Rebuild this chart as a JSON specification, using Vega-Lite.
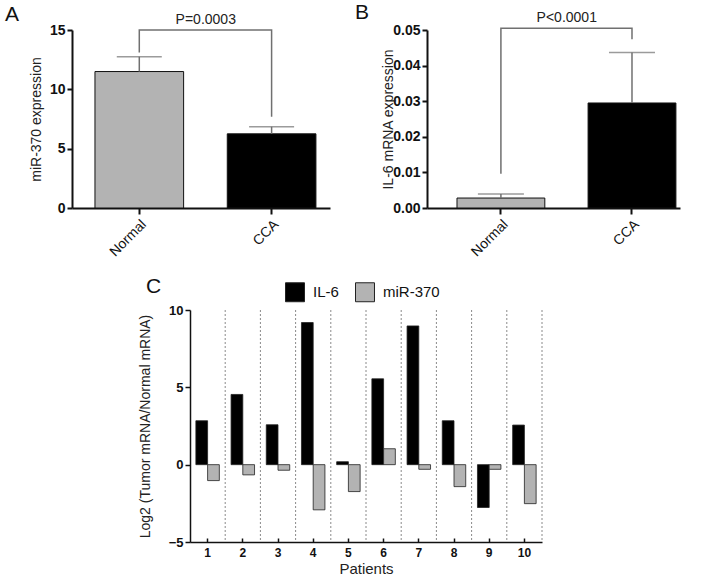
{
  "$schema": "https://vega.github.io/schema/vega-lite/v6.json",
  "background": "white",
  "padding": {"left": 5, "top": 2, "right": 5, "bottom": 0},
  "config": {
    "font": "Liberation Sans",
    "view": {"stroke": null},
    "axis": {"labelColor": "#111", "titleColor": "#222", "domainColor": "#111", "tickColor": "#111", "grid": false},
    "title": {"fontWeight": "normal", "fontSize": 21, "color": "#111"}
  },
  "spacing": 17,
  "resolve": {"scale": {"color": "independent", "x": "independent", "y": "independent"}, "legend": {"color": "independent"}},
  "vconcat": [
    {
      "spacing": 97,
      "bounds": "flush",
      "resolve": {"scale": {"color": "independent", "x": "independent", "y": "independent"}},
      "hconcat": [
        {
          "width": 258,
          "height": 178,
          "title": {"text": "A", "anchor": "start", "frame": "group", "dx": -67, "offset": -12},
          "data": {"values": [
            {"group": "Normal", "mean": 11.5, "upper": 12.75},
            {"group": "CCA", "mean": 6.25, "upper": 6.85}
          ]},
          "layer": [
            {
              "mark": {"type": "bar", "stroke": "#111", "strokeWidth": 1},
              "encoding": {
                "x": {"field": "group", "type": "nominal", "scale": {"domain": ["Normal", "CCA"], "paddingInner": 0.33, "paddingOuter": 0.14, "align": 0.62},
                  "axis": {"title": null, "labelAngle": -45, "labelFontSize": 14, "labelFontWeight": "normal", "domainWidth": 2, "tickWidth": 2, "tickSize": 6, "labelPadding": 3}},
                "y": {"field": "mean", "type": "quantitative", "scale": {"domain": [0, 15], "nice": false},
                  "axis": {"values": [0, 5, 10, 15], "title": "miR-370 expression", "titleFontSize": 14, "titleFontWeight": "normal", "labelFontSize": 14, "labelFontWeight": "bold", "domainWidth": 2, "tickWidth": 2, "tickSize": 5, "labelPadding": 2, "titlePadding": 6}},
                "color": {"field": "group", "type": "nominal", "scale": {"domain": ["Normal", "CCA"], "range": ["#b3b3b3", "#000000"]}, "legend": null}
              }
            },
            {
              "mark": {"type": "rule", "color": "#707070", "strokeWidth": 1.5},
              "encoding": {
                "x": {"field": "group", "type": "nominal"},
                "y": {"field": "mean", "type": "quantitative"},
                "y2": {"field": "upper"}
              }
            },
            {
              "mark": {"type": "tick", "color": "#707070", "thickness": 1.5, "size": 45},
              "encoding": {
                "x": {"field": "group", "type": "nominal"},
                "y": {"field": "upper", "type": "quantitative"}
              }
            },
            {
              "data": {"values": [
                {"group": "Normal", "y": 13.1, "o": 1},
                {"group": "Normal", "y": 15, "o": 2},
                {"group": "CCA", "y": 15, "o": 3},
                {"group": "CCA", "y": 7.7, "o": 4}
              ]},
              "mark": {"type": "line", "color": "#707070", "strokeWidth": 1.5},
              "encoding": {
                "x": {"field": "group", "type": "nominal"},
                "y": {"field": "y", "type": "quantitative"},
                "order": {"field": "o", "type": "quantitative"}
              }
            },
            {
              "data": {"values": [{"group": "Normal", "y": 15, "label": "P=0.0003"}]},
              "mark": {"type": "text", "baseline": "bottom", "dy": -3, "fontSize": 14, "color": "#222"},
              "encoding": {
                "x": {"field": "group", "type": "nominal", "bandPosition": 1.25},
                "y": {"field": "y", "type": "quantitative"},
                "text": {"field": "label"}
              }
            }
          ]
        },
        {
          "width": 253,
          "height": 178,
          "title": {"text": "B", "anchor": "start", "frame": "group", "dx": -72, "offset": -12},
          "data": {"values": [
            {"group": "Normal", "mean": 0.0028, "upper": 0.0039},
            {"group": "CCA", "mean": 0.0295, "upper": 0.0437}
          ]},
          "layer": [
            {
              "mark": {"type": "bar", "stroke": "#111", "strokeWidth": 1},
              "encoding": {
                "x": {"field": "group", "type": "nominal", "scale": {"domain": ["Normal", "CCA"], "paddingInner": 0.33, "paddingOuter": 0.13, "align": 0.88},
                  "axis": {"title": null, "labelAngle": -45, "labelFontSize": 14, "labelFontWeight": "normal", "domainWidth": 2, "tickWidth": 2, "tickSize": 6, "labelPadding": 3}},
                "y": {"field": "mean", "type": "quantitative", "scale": {"domain": [0, 0.05], "nice": false},
                  "axis": {"tickCount": 5, "labelOverlap": false, "format": ".2f", "title": "IL-6 mRNA expression", "titleFontSize": 14, "titleFontWeight": "normal", "labelFontSize": 14, "labelFontWeight": "bold", "domainWidth": 2, "tickWidth": 2, "tickSize": 5, "labelPadding": 2, "titlePadding": -3}},
                "color": {"field": "group", "type": "nominal", "scale": {"domain": ["Normal", "CCA"], "range": ["#b3b3b3", "#000000"]}, "legend": null}
              }
            },
            {
              "mark": {"type": "rule", "color": "#707070", "strokeWidth": 1.5},
              "encoding": {
                "x": {"field": "group", "type": "nominal"},
                "y": {"field": "mean", "type": "quantitative"},
                "y2": {"field": "upper"}
              }
            },
            {
              "mark": {"type": "tick", "color": "#707070", "thickness": 1.5, "size": 46},
              "encoding": {
                "x": {"field": "group", "type": "nominal"},
                "y": {"field": "upper", "type": "quantitative"}
              }
            },
            {
              "data": {"values": [
                {"group": "Normal", "y": 0.0096, "o": 1},
                {"group": "Normal", "y": 0.0505, "o": 2},
                {"group": "CCA", "y": 0.0505, "o": 3},
                {"group": "CCA", "y": 0.0474, "o": 4}
              ]},
              "mark": {"type": "line", "color": "#707070", "strokeWidth": 1.5},
              "encoding": {
                "x": {"field": "group", "type": "nominal"},
                "y": {"field": "y", "type": "quantitative"},
                "order": {"field": "o", "type": "quantitative"}
              }
            },
            {
              "data": {"values": [{"group": "Normal", "y": 0.0505, "label": "P<0.0001"}]},
              "mark": {"type": "text", "baseline": "bottom", "dy": -3, "fontSize": 14, "color": "#222"},
              "encoding": {
                "x": {"field": "group", "type": "nominal", "bandPosition": 1.25},
                "y": {"field": "y", "type": "quantitative"},
                "text": {"field": "label"}
              }
            }
          ]
        }
      ]
    },
    {
      "spacing": 0,
      "resolve": {"scale": {"color": "independent"}, "legend": {"color": "independent"}},
      "hconcat": [
        {
          "width": 66,
          "height": 10,
          "data": {"values": []},
          "mark": {"type": "rule", "opacity": 0},
          "encoding": {}
        },
        {
          "width": 352,
          "height": 232,
          "title": {"text": "C", "anchor": "start", "frame": "group", "dx": -44, "offset": -15},
          "layer": [
            {
              "data": {"values": [
                {"patient": 1, "series": "IL-6", "value": 2.84},
                {"patient": 1, "series": "miR-370", "value": -1.03},
                {"patient": 2, "series": "IL-6", "value": 4.54},
                {"patient": 2, "series": "miR-370", "value": -0.66},
                {"patient": 3, "series": "IL-6", "value": 2.58},
                {"patient": 3, "series": "miR-370", "value": -0.36},
                {"patient": 4, "series": "IL-6", "value": 9.19},
                {"patient": 4, "series": "miR-370", "value": -2.92},
                {"patient": 5, "series": "IL-6", "value": 0.19},
                {"patient": 5, "series": "miR-370", "value": -1.74},
                {"patient": 6, "series": "IL-6", "value": 5.55},
                {"patient": 6, "series": "miR-370", "value": 1.03},
                {"patient": 7, "series": "IL-6", "value": 8.97},
                {"patient": 7, "series": "miR-370", "value": -0.3},
                {"patient": 8, "series": "IL-6", "value": 2.84},
                {"patient": 8, "series": "miR-370", "value": -1.42},
                {"patient": 9, "series": "IL-6", "value": -2.77},
                {"patient": 9, "series": "miR-370", "value": -0.3},
                {"patient": 10, "series": "IL-6", "value": 2.56},
                {"patient": 10, "series": "miR-370", "value": -2.52}
              ]},
              "mark": {"type": "bar", "stroke": "#222", "strokeWidth": 0.8},
              "encoding": {
                "x": {"field": "patient", "type": "ordinal", "scale": {"paddingInner": 0, "paddingOuter": 0},
                  "axis": {"title": "Patients", "titleFontSize": 15, "titleFontWeight": "normal", "titlePadding": 3, "labelAngle": 0, "labelFontSize": 12, "labelFontWeight": "bold", "domainWidth": 1.5, "tickWidth": 1.5, "tickSize": -4, "labelPadding": 9}},
                "xOffset": {"field": "series", "type": "nominal", "scale": {"domain": ["IL-6", "miR-370"], "paddingInner": 0, "paddingOuter": 0.5}},
                "y": {"field": "value", "type": "quantitative", "scale": {"domain": [-5, 10], "nice": false},
                  "axis": {"values": [-5, 0, 5, 10], "title": "Log2 (Tumor mRNA/Normal mRNA)", "titleFontSize": 14, "titleFontWeight": "normal", "labelFontSize": 13, "labelFontWeight": "bold", "domainWidth": 1.5, "tickWidth": 1.5, "tickSize": 5, "labelPadding": 2, "titlePadding": 16}},
                "color": {"field": "series", "type": "nominal", "scale": {"domain": ["IL-6", "miR-370"], "range": ["#000000", "#b3b3b3"]},
                  "legend": {"title": null, "orient": "none", "legendX": 95, "legendY": -28, "direction": "horizontal", "symbolType": "square", "symbolSize": 360, "symbolStrokeColor": "#222", "symbolStrokeWidth": 1, "labelFontSize": 15, "labelColor": "#111", "columnPadding": 14, "labelOffset": 8}}
              }
            },
            {
              "data": {"values": [{"patient": 1}, {"patient": 2}, {"patient": 3}, {"patient": 4}, {"patient": 5}, {"patient": 6}, {"patient": 7}, {"patient": 8}, {"patient": 9}, {"patient": 10}]},
              "mark": {"type": "rule", "color": "#8a8a8a", "strokeWidth": 1, "strokeDash": [2, 2]},
              "encoding": {
                "x": {"field": "patient", "type": "ordinal", "bandPosition": 1}
              }
            },
            {
              "mark": {"type": "rule", "color": "#111", "strokeWidth": 1.5},
              "encoding": {"y": {"datum": 0}}
            },
            {
              "mark": {"type": "rule", "color": "#111", "strokeWidth": 1.5},
              "encoding": {"y": {"datum": 10}}
            }
          ]
        }
      ]
    }
  ]
}
